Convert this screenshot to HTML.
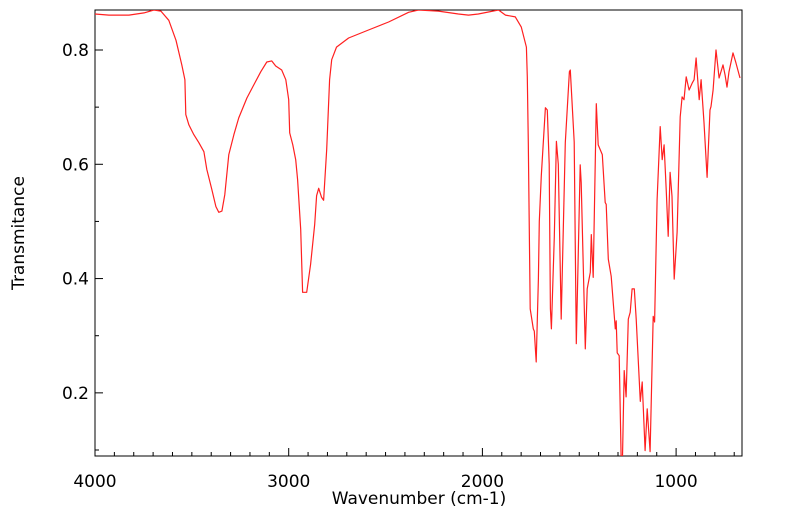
<!DOCTYPE html>
<html><head><meta charset="utf-8"><style>
html,body{margin:0;padding:0;background:#fff;}
svg text{font-family:"DejaVu Sans","Liberation Sans",sans-serif;fill:#000;}
</style></head><body>
<svg id="chart" width="799" height="516" xmlns="http://www.w3.org/2000/svg">
<g id="axes"></g>
<g id="series"></g>
<text x="419" y="504" font-size="17" text-anchor="middle">Wavenumber (cm-1)</text>
<text x="0" y="0" font-size="17" text-anchor="middle" transform="translate(24,233) rotate(-90)">Transmitance</text>
</svg>
<script>
const xTicks = [4000, 3000, 2000, 1000];
const yTicks = [0.2, 0.4, 0.6, 0.8];
const wavenumber = [4000,3928,3825,3747,3696,3660,3619,3582,3552,3536,3531,3515,3490,3464,3438,3423,3397,3376,3361,3345,3330,3309,3283,3258,3216,3180,3144,3113,3088,3067,3036,3015,3000,2995,2979,2964,2954,2938,2928,2907,2887,2866,2856,2845,2830,2820,2804,2789,2778,2753,2691,2588,2484,2381,2330,2227,2124,2072,2021,1917,1881,1830,1799,1773,1768,1763,1753,1737,1732,1722,1711,1706,1696,1675,1665,1655,1649,1644,1629,1618,1608,1593,1572,1551,1546,1526,1515,1495,1490,1469,1459,1443,1438,1428,1412,1402,1381,1366,1361,1350,1335,1314,1309,1304,1294,1283,1278,1268,1258,1247,1237,1227,1216,1206,1185,1175,1160,1149,1134,1118,1111,1098,1082,1072,1062,1051,1041,1031,1021,1010,995,979,969,959,948,933,917,907,897,881,871,856,840,825,820,809,794,778,758,747,737,727,706,691,670];
const transmittance = [0.863,0.861,0.861,0.865,0.870,0.868,0.852,0.817,0.774,0.748,0.687,0.669,0.652,0.638,0.622,0.591,0.556,0.526,0.516,0.518,0.547,0.617,0.652,0.681,0.716,0.739,0.762,0.779,0.781,0.772,0.765,0.748,0.713,0.655,0.634,0.608,0.573,0.486,0.376,0.376,0.425,0.495,0.545,0.558,0.542,0.537,0.626,0.748,0.783,0.805,0.821,0.835,0.849,0.866,0.870,0.868,0.863,0.861,0.863,0.870,0.861,0.858,0.840,0.805,0.753,0.638,0.347,0.312,0.308,0.254,0.400,0.500,0.580,0.699,0.695,0.600,0.347,0.312,0.473,0.640,0.600,0.329,0.638,0.762,0.765,0.639,0.286,0.599,0.568,0.277,0.382,0.411,0.477,0.402,0.706,0.634,0.617,0.533,0.530,0.434,0.404,0.312,0.326,0.270,0.265,0.07,0.07,0.239,0.193,0.329,0.341,0.382,0.382,0.329,0.185,0.219,0.099,0.172,0.097,0.334,0.324,0.538,0.666,0.608,0.634,0.556,0.474,0.586,0.544,0.399,0.481,0.683,0.718,0.713,0.753,0.730,0.742,0.748,0.786,0.713,0.748,0.673,0.577,0.695,0.701,0.730,0.800,0.751,0.774,0.756,0.735,0.762,0.795,0.777,0.751];

const L=95, R=742, T=10, B=456;
const X0=4000, X1=4000-(R-L)/0.1937; // ~660
const Y0=0.0895, Y1=0.870;
function sx(w){return L+(X0-w)*(R-L)/(X0-X1);}
function sy(v){return B-(v-Y0)*(B-T)/(Y1-Y0);}
const NS="http://www.w3.org/2000/svg";
const axes=document.getElementById('axes');
function mk(tag,attrs,parent){const e=document.createElementNS(NS,tag);for(const k in attrs)e.setAttribute(k,attrs[k]);parent.appendChild(e);return e;}

const frame=mk('rect',{x:L,y:T,width:R-L,height:B-T,fill:'none',stroke:'#000','stroke-width':1},axes);



// x minor ticks
for(let w=4000; w>=X1; w-=100){
  const x=sx(w); const major=(w%1000===0);
  const t=mk('line',{x1:x,x2:x,y1:B,y2:B-(major?8:4),stroke:'#000','stroke-width':1},axes);
  
  
}
xTicks.forEach(w=>{
  const t=mk('text',{x:sx(w),y:B+31,'font-size':17,'text-anchor':'middle'},axes);
  t.textContent=String(w);
  
  
});
for(let v=0.1; v<=0.86; v+=0.1){
  const y=sy(v); const major=Math.round(v*10)%2===0;
  const t=mk('line',{x1:L,x2:L+(major?8:4),y1:y,y2:y,stroke:'#000','stroke-width':1},axes);
  
  
}
yTicks.forEach(v=>{
  const t=mk('text',{x:L-6,y:sy(v)+6,'font-size':17,'text-anchor':'end'},axes);
  t.textContent=v.toFixed(1);
  
  
});

const series=document.getElementById('series');
mk('clipPath',{id:'clip'},series).appendChild(document.createElementNS(NS,'rect'));
const cr=series.querySelector('clipPath rect');
cr.setAttribute('x',L);cr.setAttribute('y',T);cr.setAttribute('width',R-L);cr.setAttribute('height',B-T);
const pts=wavenumber.map((w,i)=>sx(w).toFixed(1)+','+sy(transmittance[i]).toFixed(1)).join(' ');
const line=mk('polyline',{points:pts,fill:'none',stroke:'#ff2020','stroke-width':1.2,'stroke-linejoin':'round','clip-path':'url(#clip)'},series);


</script>
</body></html>
